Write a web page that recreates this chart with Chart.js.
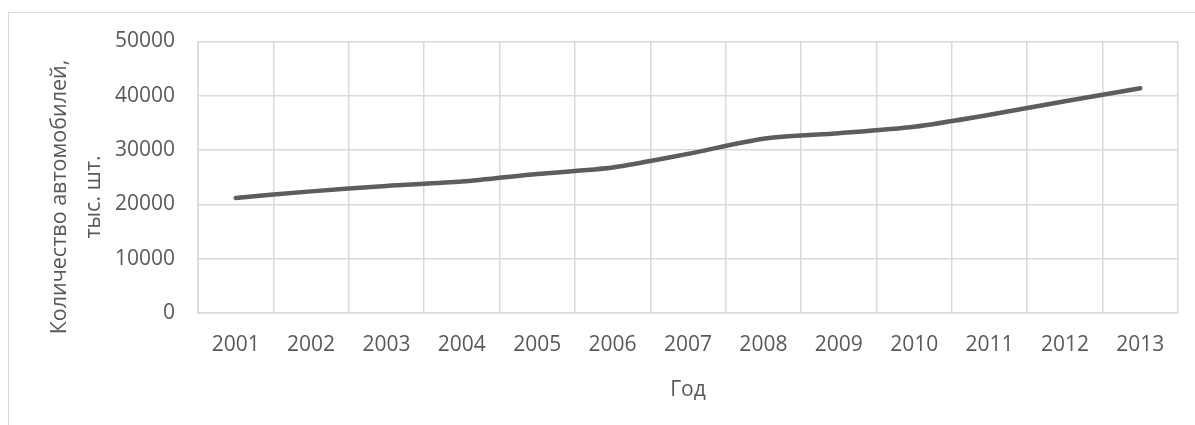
<!DOCTYPE html>
<html>
<head>
<meta charset="utf-8">
<script src="https://cdn.jsdelivr.net/npm/chart.js@4"></script>
<style>
    html, body { margin: 0; padding: 0; background: #fff; overflow: hidden; }
    #moldura {
        position: absolute; left: 8px; top: 12px; width: 1400px; height: 600px;
        border-left: 1px solid #d9d9d9; border-top: 1px solid #d9d9d9;
    }
    #caixa { position: absolute; left: 0; top: 0; width: 1195px; height: 425px; }
</style>
</head>
<body>
<div id="moldura"></div>
<div id="caixa"><canvas id="grafico" width="1195" height="425"></canvas></div>
<script>
const anos = ["2001", "2002", "2003", "2004", "2005", "2006", "2007", "2008", "2009", "2010", "2011", "2012", "2013"];
const automoveis = [21200, 22400, 23400, 24200, 25600, 26800, 29300, 32100, 33100, 34300, 36500, 39000, 41400];
const tituloY = ["Количество автомобилей,", "тыс. шт."];
const tituloX = "Год";

const corTexto = "#595959";
const corGrade = "#d9d9d9";
const fonte = "'Open Sans', sans-serif";

// titulo do eixo Y desenhado a mao para ficar na mesma altura do original
const tituloEixoY = {
    id: "tituloEixoY",
    afterDraw(chart) {
        const ctx = chart.ctx;
        ctx.save();
        ctx.fillStyle = corTexto;
        ctx.font = "21.5px " + fonte;
        ctx.textAlign = "center";
        ctx.textBaseline = "middle";
        ctx.translate(0, 197);
        ctx.rotate(-Math.PI / 2);
        ctx.fillText(tituloY[0], 0, 60);
        ctx.fillText(tituloY[1], 0, 94);
        ctx.restore();
    }
};

new Chart(document.getElementById("grafico"), {
    type: "line",
    data: {
        labels: anos,
        datasets: [{
            data: automoveis,
            borderColor: "#5d5d5d",
            borderWidth: 4.5,
            borderCapStyle: "round",
            borderJoinStyle: "round",
            pointRadius: 0,
            tension: 0.25,
            fill: false
        }]
    },
    options: {
        responsive: false,
        animation: false,
        layout: { padding: { left: 0, right: 17, top: 41.5, bottom: 0 } },
        plugins: {
            legend: { display: false },
            tooltip: { enabled: false }
        },
        scales: {
            x: {
                offset: true,
                grid: { color: corGrade, lineWidth: 1.5, drawTicks: false, offset: true },
                border: { color: corGrade, width: 1.5 },
                ticks: {
                    color: corTexto, font: { family: fonte, size: 21 },
                    padding: 19, maxRotation: 0, autoSkip: false
                },
                title: {
                    display: true, text: tituloX, color: corTexto,
                    font: { family: fonte, size: 21 }, padding: { top: 6, bottom: 22 }
                },
                afterFit(escala) { escala.height = 112; }
            },
            y: {
                min: 0,
                max: 50000,
                grid: { color: corGrade, lineWidth: 1.5, drawTicks: false },
                border: { color: corGrade, width: 1.5 },
                ticks: {
                    stepSize: 10000, color: corTexto,
                    font: { family: fonte, size: 21 }, padding: 23,
                    callback: (valor) => String(valor)
                },
                afterFit(escala) { escala.width = 198; }
            }
        }
    },
    plugins: [tituloEixoY]
});
</script>
</body>
</html>
